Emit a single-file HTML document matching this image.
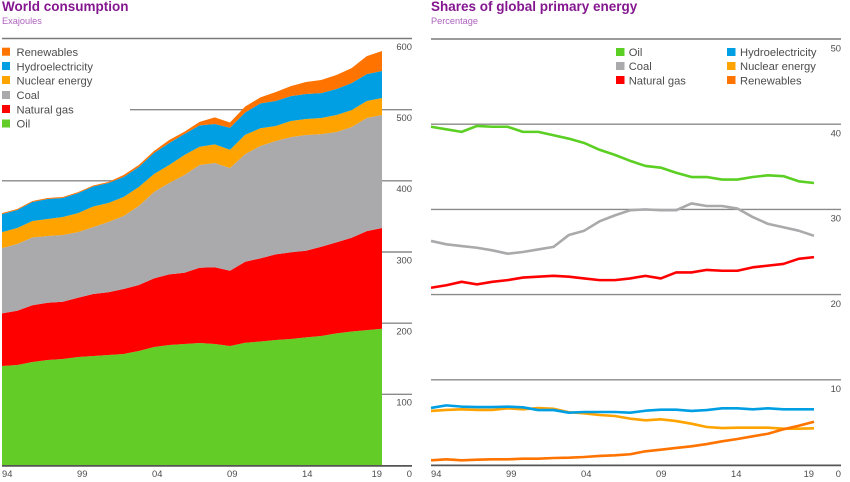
<!DOCTYPE html>
<html>
<head>
<meta charset="utf-8">
<title>World consumption and shares of global primary energy</title>
<style>
html,body{margin:0;padding:0;background:#fff;width:850px;height:482px;overflow:hidden}
svg{display:block;font-family:"Liberation Sans",sans-serif}
.title{font-size:13.5px;font-weight:bold;fill:#84178f}
.sub{font-size:9.2px;fill:#ad62bd}
.leg{font-size:11.2px;fill:#4d4d4d}
.tick{font-size:9.4px;fill:#4d4d4d}
</style>
</head>
<body>
<svg id="chart" width="850" height="482" viewBox="0 0 850 482" xmlns="http://www.w3.org/2000/svg">
  <g id="left-grid"></g>
  <g id="left-areas"></g>
  <g id="left-axis"></g>
  <g id="right-grid"></g>
  <g id="right-lines"></g>
  <g id="right-axis"></g>

  <text class="title" x="2" y="11">World consumption</text>
  <text class="sub" x="2" y="24">Exajoules</text>
  <text class="title" x="431" y="11">Shares of global primary energy</text>
  <text class="sub" x="431" y="24">Percentage</text>

  <g>
    <rect x="2" y="47.7" width="8" height="8" fill="#ff7300"/>
    <text class="leg" x="16.5" y="56">Renewables</text>
    <rect x="2" y="62" width="8" height="8" fill="#009fe3"/>
    <text class="leg" x="16.5" y="70.5">Hydroelectricity</text>
    <rect x="2" y="76" width="8" height="8" fill="#ffa300"/>
    <text class="leg" x="16.5" y="84.5">Nuclear energy</text>
    <rect x="2" y="91" width="8" height="8" fill="#aaaaac"/>
    <text class="leg" x="16.5" y="99">Coal</text>
    <rect x="2" y="105" width="8" height="8" fill="#ff0000"/>
    <text class="leg" x="16.5" y="113.5">Natural gas</text>
    <rect x="2" y="119.5" width="8" height="8" fill="#64cc26"/>
    <text class="leg" x="16.5" y="127.5">Oil</text>
  </g>

  <g>
    <rect x="616" y="48" width="8.5" height="8" fill="#5ccf24"/>
    <text class="leg" x="628.7" y="56">Oil</text>
    <rect x="616" y="62" width="8.5" height="8" fill="#aaaaac"/>
    <text class="leg" x="628.7" y="70">Coal</text>
    <rect x="616" y="76" width="8.5" height="8" fill="#ff0000"/>
    <text class="leg" x="628.7" y="84.5">Natural gas</text>
    <rect x="727" y="48" width="8.5" height="8" fill="#009fe3"/>
    <text class="leg" x="740" y="56">Hydroelectricity</text>
    <rect x="727" y="62" width="8.5" height="8" fill="#ffa300"/>
    <text class="leg" x="740" y="70">Nuclear energy</text>
    <rect x="727" y="76" width="8.5" height="8" fill="#ff7300"/>
    <text class="leg" x="740" y="84.5">Renewables</text>
  </g>
</svg>
<script>
const years = [1994,1995,1996,1997,1998,1999,2000,2001,2002,2003,2004,2005,2006,2007,2008,2009,2010,2011,2012,2013,2014,2015,2016,2017,2018,2019];
const xTickLabels = ['94','99','04','09','14','19'];
const xTickYears = [1994,1999,2004,2009,2014,2019];
const leftTicks = [0,100,200,300,400,500,600];
const rightTicks = [0,10,20,30,40,50];

const oilEJ = [139.8,141.2,145.4,148.2,149.6,152.4,153.8,155.3,156.7,160.9,166.5,169.3,170.7,172.1,170.7,167.9,172.5,174.2,176.3,177.7,180.1,181.9,185.7,188.2,190.3,192.2];
const gasEJ = [74,76.3,79.7,80.5,80.5,83.3,87.1,88.1,91.3,92.7,96.5,99.3,100.2,105.8,107.8,105.8,113.8,116.9,120.4,121.8,121.7,125.5,127.9,131.8,139.1,141.5];
const coalEJ = [91.7,93.7,95.3,93.7,93.7,92.3,94.1,98.8,102.6,111,121.3,128.3,137.3,144.3,146.5,144.3,151.3,157.8,159.2,162,162.6,158.3,155,155.5,158.8,158.8];
const nuclearEJ = [22.5,22.5,23.2,23.9,25.3,26.7,28.9,26.7,26.7,26.7,25.3,25.3,28.1,25.7,26.3,25.7,27.1,24.9,21.1,22.5,22.5,22.5,23.9,23.9,23.9,23.9];
const hydroEJ = [25.3,25.3,26.7,28.1,26.7,28.1,28.1,28.1,28.1,28.1,29.5,30.9,29.5,30,28.5,30.9,31.3,35.1,35.1,35.1,35.1,35.1,36.5,37.9,37.9,37.9];
const renewablesEJ = [1.4,1.4,1.4,1.4,1.4,1.4,1.4,1.4,2.8,2.8,2.8,4.2,3.2,5,9.4,7.4,8.4,8.4,12.6,14,16.9,18.3,19.7,21.1,25.3,28.1];

const oilShare = [39.7,39.4,39.1,39.8,39.7,39.7,39.1,39.1,38.7,38.3,37.8,37,36.4,35.7,35.1,34.9,34.3,33.8,33.8,33.5,33.5,33.8,34,33.9,33.3,33.1];
const coalShare = [26.3,25.9,25.7,25.5,25.2,24.8,25,25.3,25.6,27,27.5,28.6,29.3,29.9,30,29.9,29.9,30.7,30.4,30.4,30.1,29.1,28.3,27.9,27.5,26.9];
const gasShare = [20.8,21.1,21.5,21.2,21.5,21.7,22,22.1,22.2,22.1,21.9,21.7,21.7,21.9,22.2,21.9,22.6,22.6,22.9,22.8,22.8,23.2,23.4,23.6,24.2,24.4];
const hydroShare = [6.7,7,6.85,6.8,6.8,6.85,6.77,6.45,6.45,6.14,6.22,6.22,6.22,6.14,6.37,6.49,6.49,6.34,6.45,6.65,6.65,6.54,6.65,6.54,6.54,6.54];
const nuclearShare = [6.34,6.46,6.54,6.46,6.46,6.65,6.54,6.69,6.6,6.19,6.07,5.87,5.75,5.44,5.25,5.36,5.16,4.85,4.46,4.34,4.38,4.38,4.38,4.26,4.26,4.31];
const renewablesShare = [0.55,0.67,0.55,0.62,0.67,0.67,0.74,0.74,0.82,0.86,0.94,1.06,1.14,1.26,1.61,1.8,2,2.19,2.46,2.78,3.05,3.37,3.67,4.19,4.61,5.08];

const NS = 'http://www.w3.org/2000/svg';
function make(tag, attrs, parent) {
  const el = document.createElementNS(NS, tag);
  for (const k in attrs) el.setAttribute(k, attrs[k]);
  parent.appendChild(el);
  return el;
}
const xLeft = y => 2 + (y - 1994) * (380 / 25);
const yLeft = v => 465.5 - v * (427 / 600);
const xRight = y => 431 + (y - 1994) * (383 / 25);
const yRight = v => 465 - v * (426 / 50);
const xLabelOffset = y => (y - 1994) * 15;

const leftGrid = document.getElementById('left-grid');
const leftAreas = document.getElementById('left-areas');
const leftAxis = document.getElementById('left-axis');
const rightGrid = document.getElementById('right-grid');
const rightLines = document.getElementById('right-lines');
const rightAxis = document.getElementById('right-axis');

leftTicks.forEach(t => {
  if (t > 0) {
    const startX = t === 500 ? 130 : 2;
    const line = make('line', {x1: startX, x2: 412, y1: yLeft(t), y2: yLeft(t), stroke: t === 600 ? '#7a7a7a' : '#8a8a8a', 'stroke-width': 1.4}, leftGrid);
    
    
  }
  const label = make('text', {class: 'tick', x: 412, y: t === 0 ? 477 : yLeft(t) + 11.3, 'text-anchor': 'end'}, leftAxis);
  
  
  label.textContent = t;
});

const stackSeries = [
  {name: 'area-oil', values: oilEJ, color: '#64cc26'},
  {name: 'area-natural-gas', values: gasEJ, color: '#ff0000'},
  {name: 'area-coal', values: coalEJ, color: '#aaaaac'},
  {name: 'area-nuclear', values: nuclearEJ, color: '#ffa300'},
  {name: 'area-hydroelectricity', values: hydroEJ, color: '#009fe3'},
  {name: 'area-renewables', values: renewablesEJ, color: '#ff7300'}
];
let base = years.map(() => 0);
stackSeries.forEach(s => {
  const top = base.map((b, i) => b + s.values[i]);
  const upper = years.map((y, i) => xLeft(y).toFixed(2) + ',' + yLeft(top[i]).toFixed(2));
  const lower = years.map((y, i) => xLeft(y).toFixed(2) + ',' + yLeft(base[i]).toFixed(2)).reverse();
  const poly = make('polygon', {points: upper.concat(lower).join(' '), fill: s.color}, leftAreas);
  
  
  base = top;
});

const leftBase = make('line', {x1: 2, x2: 412, y1: 465.9, y2: 465.9, stroke: '#555', 'stroke-width': 1.8}, leftAxis);



xTickYears.forEach((y, i) => {
  const last = i === xTickYears.length - 1;
  const label = make('text', {class: 'tick', x: last ? xLeft(y) : 2 + xLabelOffset(y), y: 477, 'text-anchor': last ? 'end' : 'start'}, leftAxis);
  
  
  label.textContent = xTickLabels[i];
  const labelR = make('text', {class: 'tick', x: last ? xRight(y) : 431 + xLabelOffset(y), y: 477, 'text-anchor': last ? 'end' : 'start'}, rightAxis);
  
  
  labelR.textContent = xTickLabels[i];
});

rightTicks.forEach(t => {
  if (t > 0) {
    const line = make('line', {x1: 431, x2: 841, y1: yRight(t), y2: yRight(t), stroke: t === 50 ? '#7a7a7a' : '#8a8a8a', 'stroke-width': 1.4}, rightGrid);
    
    
  }
  const label = make('text', {class: 'tick', x: 841, y: t === 0 ? 477 : yRight(t) + 12.3, 'text-anchor': 'end'}, rightAxis);
  
  
  label.textContent = t;
});

const rightBase = make('line', {x1: 431, x2: 841, y1: 465.4, y2: 465.4, stroke: '#555', 'stroke-width': 1.8}, rightAxis);



const lineSeries = [
  {name: 'line-oil', values: oilShare, color: '#5ccf24'},
  {name: 'line-coal', values: coalShare, color: '#aaaaac'},
  {name: 'line-natural-gas', values: gasShare, color: '#ff0000'},
  {name: 'line-nuclear', values: nuclearShare, color: '#ffa300'},
  {name: 'line-hydroelectricity', values: hydroShare, color: '#009fe3'},
  {name: 'line-renewables', values: renewablesShare, color: '#ff7300'}
];
lineSeries.forEach(s => {
  const pts = years.map((y, i) => xRight(y).toFixed(2) + ',' + yRight(s.values[i]).toFixed(2)).join(' ');
  const line = make('polyline', {points: pts, fill: 'none', stroke: s.color, 'stroke-width': 2.6, 'stroke-linejoin': 'round'}, rightLines);
  
  
});
</script>
</body>
</html>
